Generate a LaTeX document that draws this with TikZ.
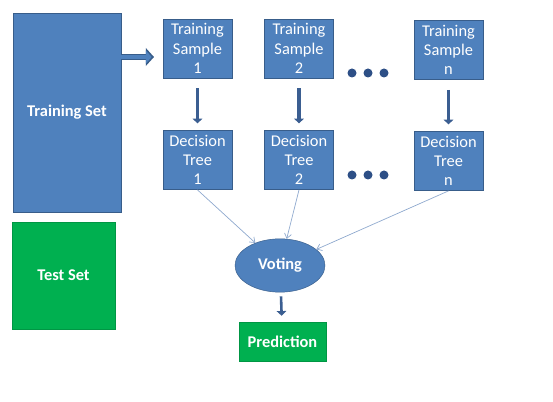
\documentclass[tikz,border=0pt]{standalone}
\usepackage{fontspec}
\setmainfont{Carlito}
\usepackage{tikz}
\usetikzlibrary{shapes.geometric,arrows.meta}
\definecolor{boxblue}{HTML}{4F81BD}
\definecolor{edgeblue}{HTML}{385D8A}
\definecolor{boxgreen}{HTML}{00B050}
\definecolor{thinblue}{HTML}{8FA9CE}
\definecolor{darkblue}{HTML}{3B5E91}
\definecolor{dotblue}{HTML}{2D4F86}
\begin{document}
\begin{tikzpicture}[x=0.03cm, y=-0.03cm,
    txt/.style={text=white, align=center, inner sep=0pt, font=\fontsize{14}{16.5}\selectfont},
    box/.style={txt, draw=edgeblue, fill=boxblue, minimum width=2.07cm, minimum height=1.78cm},
    bigbox/.style={txt, draw=edgeblue, fill=boxblue, font=\fontsize{14}{16.5}\selectfont\bfseries},
    greenbox/.style={txt, draw=boxgreen!85!black, fill=boxgreen, font=\fontsize{14}{16.5}\selectfont\bfseries},
    thick arrow/.style={draw=darkblue, line width=2.6pt, -{Triangle[length=4pt,width=8pt]}},
    thin arrow/.style={draw=thinblue, line width=0.6pt, -{Straight Barb[length=4pt,width=6pt]}},
    dots/.style={circle, fill=dotblue, inner sep=0pt, minimum width=0.22cm, minimum height=0.27cm}]
    \useasboundingbox (0,0) rectangle (553,402);
    % left column
    \node[bigbox, minimum width=3.24cm, minimum height=5.97cm] (trainset) at (67,112.5) {Training Set};
    \node[greenbox, minimum width=3.09cm, minimum height=3.21cm] (testset) at (63.5,275.5) {Test Set};
    % samples
    \node[box] (s1) at (197.5,48.5) {Training\\Sample\\1};
    \node[box] (s2) at (299,48.5) {Training\\Sample\\2};
    \node[box] (sn) at (448.5,50) {Training\\Sample\\n};
    % trees
    \node[box] (t1) at (197.5,160) {Decision\\Tree\\1};
    \node[box] (t2) at (299,160) {Decision\\Tree\\2};
    \node[box] (tn) at (448.5,161) {Decision\\Tree\\n};
    % dots
    \foreach \i/\x in {1/352,2/368,3/384} {
        \node[dots] (da\i) at (\x,73) {};
        \node[dots] (db\i) at (\x,175) {};
    }
    % voting and result
    \node[ellipse, draw=edgeblue, fill=boxblue, txt, font=\fontsize{14}{16.5}\selectfont\bfseries,
          minimum width=2.7cm, minimum height=1.6cm] (vote) at (280,265.5) {Voting};
    \node[greenbox, minimum width=2.61cm, minimum height=1.17cm] (pred) at (282.5,341.5) {Prediction};
    % block arrow
    \coordinate (ba) at (121,57);
    \coordinate (bb) at (154,57);
    \draw[draw=edgeblue, line width=5.2pt, -{Triangle[length=7pt,width=15pt]}] (ba) -- (bb);
    \draw[draw=boxblue, line width=3.8pt, shorten >=2pt, -{Triangle[length=5pt,width=11pt]}] (ba) -- (bb);
    % sample to tree
    \draw[thick arrow, shorten <=0.3cm, shorten >=0.2cm] (s1) -- (t1);
    \draw[thick arrow, shorten <=0.3cm, shorten >=0.2cm] (s2) -- (t2);
    \draw[thick arrow, shorten <=0.3cm, shorten >=0.2cm] (sn) -- (tn);
    % trees to voting
    \draw[thin arrow] (t1.south) -- (vote);
    \draw[thin arrow] (t2.south) -- (vote);
    \draw[thin arrow] (tn.south) -- (vote);
    \draw[thick arrow, line width=2.2pt, shorten <=0.12cm, shorten >=0.18cm] (vote) -- (pred);
\end{tikzpicture}
\end{document}
